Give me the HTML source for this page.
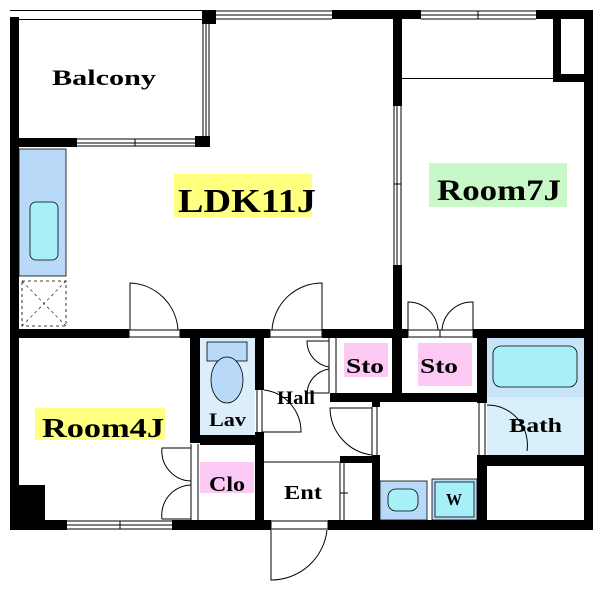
<!DOCTYPE html>
<html><head><meta charset="utf-8"><style>
body{margin:0;background:#fff}
svg{display:block}
text{font-family:"Liberation Serif",serif;fill:#000;font-weight:bold}
</style></head><body>
<svg width="600" height="592" viewBox="0 0 600 592" xmlns="http://www.w3.org/2000/svg">
<rect width="600" height="592" fill="#fff"/>
<rect x="19" y="149" width="47" height="127" fill="#b8daf8" stroke="#000" stroke-width="0.8"/>
<rect x="30" y="202" width="28" height="58" rx="6" fill="#a8f0f8" stroke="#000" stroke-width="0.8"/>
<rect x="22" y="281" width="44" height="45" fill="none" stroke="#000" stroke-width="0.8" stroke-dasharray="3,3"/>
<path d="M22 281L66 326M66 281L22 326" stroke="#000" stroke-width="0.6" stroke-dasharray="3,3"/>
<rect x="200" y="337" width="55" height="98" fill="#dceefa"/>
<rect x="207" y="342" width="40" height="19" fill="#b8daf8" stroke="#000" stroke-width="0.8"/>
<ellipse cx="227" cy="380" rx="16" ry="23" fill="#b8daf8" stroke="#000" stroke-width="0.8"/>
<rect x="487" y="337" width="98" height="118" fill="#d8f0fa"/>
<rect x="487" y="337" width="98" height="60" fill="#c8e4f8"/>
<rect x="493" y="346" width="84" height="41" rx="8" fill="#a8f0f8" stroke="#000" stroke-width="0.8"/>
<rect x="380" y="481" width="47" height="39" fill="#b8daf8" stroke="#000" stroke-width="0.8"/>
<rect x="388" y="489" width="30" height="22" rx="8" fill="#a8f0f8" stroke="#000" stroke-width="0.8"/>
<rect x="432" y="479" width="45" height="41" fill="#b8daf8" stroke="#000" stroke-width="0.8"/>
<rect x="435" y="482" width="39" height="35" fill="#a8f0f8" stroke="#000" stroke-width="0.8"/>
<rect x="174" y="174" width="138" height="43" fill="#ffff80"/>
<rect x="429" y="163" width="138" height="44" fill="#c8f8c8"/>
<rect x="35" y="408" width="130" height="32" fill="#ffff80"/>
<rect x="344" y="343" width="44" height="34" fill="#fcc8f4"/>
<rect x="418" y="343" width="54" height="43" fill="#fcc8f4"/>
<rect x="200" y="462" width="54" height="31" fill="#fcc8f4"/>
<g fill="#000">
<rect x="10" y="17" width="9" height="513"/>
<rect x="202" y="10" width="14" height="14"/>
<rect x="332" y="10" width="89" height="9"/>
<rect x="536" y="10" width="57" height="9"/>
<rect x="584" y="10" width="9" height="520"/>
<rect x="393" y="19" width="9" height="87"/>
<rect x="393" y="265" width="9" height="73"/>
<rect x="553" y="19" width="8" height="63"/>
<rect x="553" y="74" width="31" height="8"/>
<rect x="19" y="138" width="58" height="9"/>
<rect x="195" y="136" width="15" height="11"/>
<rect x="10" y="329" width="119" height="9"/>
<rect x="180" y="329" width="90" height="9"/>
<rect x="322" y="329" width="86" height="9"/>
<rect x="473" y="329" width="120" height="9"/>
<rect x="190" y="337" width="10" height="106"/>
<rect x="200" y="435" width="64" height="10"/>
<rect x="255" y="337" width="9" height="53"/>
<rect x="255" y="432" width="9" height="98"/>
<rect x="330" y="393" width="157" height="9"/>
<rect x="392" y="337" width="10" height="60"/>
<rect x="477" y="337" width="10" height="66"/>
<rect x="477" y="455" width="10" height="75"/>
<rect x="487" y="455" width="98" height="11"/>
<rect x="372" y="402" width="8" height="5"/>
<rect x="372" y="455" width="8" height="75"/>
<rect x="340" y="456" width="40" height="7"/>
<rect x="19" y="485" width="26" height="40"/>
<rect x="10" y="520" width="57" height="10"/>
<rect x="172" y="520" width="99" height="10"/>
<rect x="328" y="520" width="265" height="10"/>
</g>
<g stroke="#000" stroke-width="1" fill="none">
<path d="M10 10.5H202M10 19.5H202"/>
<path d="M216 11H332M216 15H332M216 19H332"/>
<path d="M421 11H536M421 15H536M421 19H536M478 11V19"/>
<path d="M203 24V136M206 24V136M209 24V136"/>
<path d="M77 139H195M77 143H195M77 146H195M135 139V146"/>
<path d="M394 106V265M397 106V265M401 106V265M394 184H401"/>
<path d="M402 78.5H553"/>
<path d="M67 521H172M67 525H172M67 529H172M120 521V529"/>
<path d="M11 362V457M15 362V457M18 362V457M11 410H18"/>
<path d="M129 330H180V337H129ZM270 330H322V337H270ZM408 330H473V337H408ZM440 330V337"/>
<path d="M271 521H328V529H271Z"/>
<path d="M130 330V283A50 50 0 0 1 178 330"/>
<path d="M322 330V283A50 50 0 0 0 272 330"/>
<path d="M408 330V302A30 30 0 0 1 438 330M473 330V302A30 30 0 0 0 442 330"/>
<path d="M191 444V520M198 444V520"/>
<path d="M191 448H162A30 30 0 0 0 191 481M191 519H162A30 30 0 0 1 191 485"/>
<path d="M257 390V432M262 390V432M262 432H301A42 42 0 0 0 264 390"/>
<path d="M329 338V393M336 338V393M329 341H307A26 26 0 0 0 329 367M329 393H307A26 26 0 0 1 329 369"/>
<path d="M372 407V455M377 407V455M372 408H330A48 48 0 0 0 372 455"/>
<path d="M479 403V455M485 403V455M487 405A40 40 0 0 1 527 451"/>
<path d="M264 462H340M340 463V520M344 463V520M340 493H348"/>
<path d="M271 530V580A56 56 0 0 0 327 530"/>
</g>
<text x="52" y="85" font-size="22" textLength="104" lengthAdjust="spacingAndGlyphs">Balcony</text>
<text x="178" y="212" font-size="34" textLength="138" lengthAdjust="spacingAndGlyphs">LDK11J</text>
<text x="437" y="200" font-size="30" textLength="124" lengthAdjust="spacingAndGlyphs">Room7J</text>
<text x="42" y="437" font-size="27" textLength="122" lengthAdjust="spacingAndGlyphs">Room4J</text>
<text x="346" y="373" font-size="21" textLength="38" lengthAdjust="spacingAndGlyphs">Sto</text>
<text x="420" y="373" font-size="21" textLength="38" lengthAdjust="spacingAndGlyphs">Sto</text>
<text x="209" y="426" font-size="19" textLength="37" lengthAdjust="spacingAndGlyphs">Lav</text>
<text x="277" y="404" font-size="19" textLength="38" lengthAdjust="spacingAndGlyphs">Hall</text>
<text x="209" y="491" font-size="21" textLength="36" lengthAdjust="spacingAndGlyphs">Clo</text>
<text x="284" y="499" font-size="20" textLength="38" lengthAdjust="spacingAndGlyphs">Ent</text>
<text x="509" y="432" font-size="20" textLength="53" lengthAdjust="spacingAndGlyphs">Bath</text>
<text x="446" y="505" font-size="17" textLength="16" lengthAdjust="spacingAndGlyphs">W</text>
</svg>
</body></html>
